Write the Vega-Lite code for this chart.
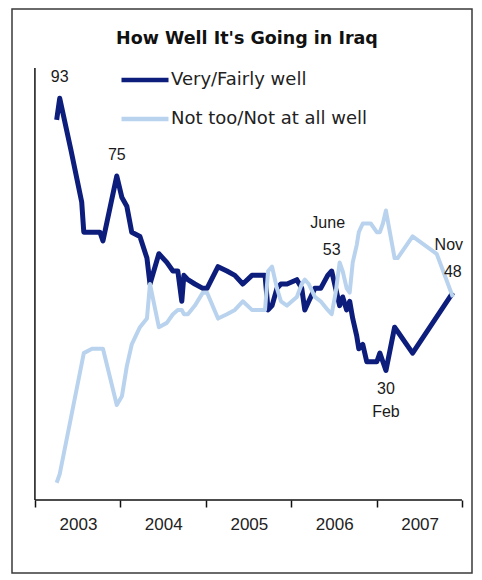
{
  "$schema": "https://vega.github.io/schema/vega-lite/v6.json",
  "width": 460,
  "height": 564,
  "autosize": {"type": "none"},
  "padding": {"left": 12, "top": 9, "right": 10, "bottom": 7},
  "background": "white",
  "title": {
    "text": "How Well It's Going in Iraq",
    "font": "DejaVu Sans",
    "fontSize": 17.5,
    "fontWeight": "bold",
    "color": "#111111",
    "anchor": "middle",
    "frame": "group",
    "baseline": "middle",
    "offset": -47,
    "dx": 5
  },
  "config": {
    "view": {"stroke": "#3a3a3a", "strokeWidth": 1.5}
  },
  "datasets": {
    "well": [
      {"d": "2003-04-04", "v": 88},
      {"d": "2003-04-17", "v": 93},
      {"d": "2003-06-04", "v": 81},
      {"d": "2003-07-20", "v": 69},
      {"d": "2003-07-29", "v": 62},
      {"d": "2003-09-02", "v": 62},
      {"d": "2003-10-06", "v": 62},
      {"d": "2003-10-19", "v": 60},
      {"d": "2003-12-17", "v": 75},
      {"d": "2004-01-08", "v": 70},
      {"d": "2004-01-29", "v": 68},
      {"d": "2004-02-19", "v": 62},
      {"d": "2004-03-25", "v": 61},
      {"d": "2004-04-24", "v": 56},
      {"d": "2004-05-07", "v": 50},
      {"d": "2004-06-14", "v": 57},
      {"d": "2004-07-18", "v": 55},
      {"d": "2004-08-13", "v": 53},
      {"d": "2004-09-03", "v": 53},
      {"d": "2004-09-20", "v": 46},
      {"d": "2004-09-29", "v": 52},
      {"d": "2004-10-16", "v": 51},
      {"d": "2004-11-15", "v": 50},
      {"d": "2004-12-19", "v": 49},
      {"d": "2005-01-06", "v": 49},
      {"d": "2005-02-22", "v": 54},
      {"d": "2005-04-01", "v": 53},
      {"d": "2005-05-05", "v": 52},
      {"d": "2005-06-08", "v": 50},
      {"d": "2005-07-17", "v": 52},
      {"d": "2005-09-11", "v": 52},
      {"d": "2005-09-24", "v": 44},
      {"d": "2005-10-11", "v": 45},
      {"d": "2005-11-01", "v": 49},
      {"d": "2005-11-18", "v": 50},
      {"d": "2005-12-14", "v": 50},
      {"d": "2006-01-25", "v": 51},
      {"d": "2006-02-15", "v": 49},
      {"d": "2006-02-28", "v": 44},
      {"d": "2006-03-17", "v": 46},
      {"d": "2006-04-12", "v": 49},
      {"d": "2006-05-07", "v": 49},
      {"d": "2006-06-06", "v": 52},
      {"d": "2006-06-23", "v": 53},
      {"d": "2006-07-10", "v": 49},
      {"d": "2006-07-27", "v": 45},
      {"d": "2006-08-09", "v": 47},
      {"d": "2006-08-26", "v": 44},
      {"d": "2006-09-08", "v": 46},
      {"d": "2006-09-21", "v": 42},
      {"d": "2006-10-08", "v": 38},
      {"d": "2006-10-17", "v": 35},
      {"d": "2006-11-03", "v": 36},
      {"d": "2006-11-20", "v": 32},
      {"d": "2006-12-07", "v": 32},
      {"d": "2007-01-02", "v": 32},
      {"d": "2007-01-15", "v": 34},
      {"d": "2007-01-28", "v": 32},
      {"d": "2007-02-10", "v": 30},
      {"d": "2007-03-19", "v": 40},
      {"d": "2007-04-01", "v": 39},
      {"d": "2007-06-04", "v": 34},
      {"d": "2007-11-23", "v": 48}
    ],
    "notwell": [
      {"d": "2003-04-04", "v": 4},
      {"d": "2003-04-17", "v": 6},
      {"d": "2003-06-04", "v": 19},
      {"d": "2003-07-29", "v": 34},
      {"d": "2003-09-02", "v": 35},
      {"d": "2003-10-06", "v": 35},
      {"d": "2003-10-19", "v": 35},
      {"d": "2003-12-17", "v": 22},
      {"d": "2004-01-08", "v": 24},
      {"d": "2004-01-29", "v": 31},
      {"d": "2004-02-19", "v": 36},
      {"d": "2004-03-25", "v": 40},
      {"d": "2004-04-24", "v": 42},
      {"d": "2004-05-07", "v": 50},
      {"d": "2004-06-14", "v": 40},
      {"d": "2004-07-18", "v": 41},
      {"d": "2004-08-13", "v": 43},
      {"d": "2004-09-03", "v": 44},
      {"d": "2004-09-20", "v": 44},
      {"d": "2004-09-29", "v": 43},
      {"d": "2004-10-16", "v": 43},
      {"d": "2004-11-15", "v": 45},
      {"d": "2004-12-19", "v": 48},
      {"d": "2005-01-06", "v": 48},
      {"d": "2005-02-22", "v": 42},
      {"d": "2005-04-01", "v": 43},
      {"d": "2005-05-05", "v": 44},
      {"d": "2005-06-08", "v": 46},
      {"d": "2005-07-17", "v": 44},
      {"d": "2005-09-11", "v": 44},
      {"d": "2005-09-24", "v": 53},
      {"d": "2005-10-11", "v": 54},
      {"d": "2005-11-01", "v": 49},
      {"d": "2005-11-18", "v": 46},
      {"d": "2005-12-14", "v": 45},
      {"d": "2006-01-25", "v": 47},
      {"d": "2006-02-15", "v": 50},
      {"d": "2006-02-28", "v": 51},
      {"d": "2006-03-17", "v": 50},
      {"d": "2006-04-12", "v": 47},
      {"d": "2006-05-07", "v": 46},
      {"d": "2006-06-06", "v": 44},
      {"d": "2006-06-23", "v": 43},
      {"d": "2006-07-10", "v": 48},
      {"d": "2006-07-27", "v": 55},
      {"d": "2006-08-09", "v": 53},
      {"d": "2006-08-26", "v": 49},
      {"d": "2006-09-08", "v": 48},
      {"d": "2006-09-21", "v": 55},
      {"d": "2006-10-08", "v": 59},
      {"d": "2006-10-17", "v": 62},
      {"d": "2006-11-03", "v": 64},
      {"d": "2006-11-20", "v": 64},
      {"d": "2006-12-07", "v": 64},
      {"d": "2007-01-02", "v": 62},
      {"d": "2007-01-15", "v": 62},
      {"d": "2007-01-28", "v": 64},
      {"d": "2007-02-10", "v": 67},
      {"d": "2007-03-19", "v": 56},
      {"d": "2007-04-01", "v": 56},
      {"d": "2007-06-04", "v": 61},
      {"d": "2007-09-15", "v": 57},
      {"d": "2007-11-23", "v": 47}
    ],
    "peaks": [
      {"d": "2003-04-17", "v": 93, "m": ""},
      {"d": "2003-12-17", "v": 75, "m": ""},
      {"d": "2006-06-23", "v": 53, "m": "June"},
      {"d": "2007-11-23", "v": 48, "m": "Nov"}
    ],
    "troughs": [
      {"d": "2007-02-10", "v": 30, "m": "Feb"}
    ]
  },
  "layer": [
    {
      "data": {"values": [{}]},
      "mark": {"type": "rule", "stroke": "#111111", "strokeWidth": 1.5},
      "encoding": {
        "x": {
          "datum": {"year": 2003, "month": 1, "date": 1},
          "type": "temporal",
          "scale": {"domain": [{"year": 2002, "month": 9, "date": 25}, {"year": 2008, "month": 2, "date": 13}]},
          "axis": {
            "orient": "bottom",
            "offset": -73,
            "title": null,
            "domain": false,
            "grid": false,
            "values": [
              {"year": 2003, "month": 1, "date": 1},
              {"year": 2004, "month": 1, "date": 1},
              {"year": 2005, "month": 1, "date": 1},
              {"year": 2006, "month": 1, "date": 1},
              {"year": 2007, "month": 1, "date": 1},
              {"year": 2008, "month": 1, "date": 1}
            ],
            "tickSize": 7,
            "tickColor": "#111111",
            "tickWidth": 1.5,
            "labelExpr": "year(datum.value) >= 2008 ? '' : timeFormat(datum.value, '%Y')",
            "labelOffset": 43,
            "labelAlign": "center",
            "labelFont": "Liberation Sans",
            "labelFontSize": 17,
            "labelColor": "#222222",
            "labelPadding": 9,
            "labelFlush": false,
            "labelOverlap": false,
            "labelBound": false
          }
        },
        "y": {"datum": 0, "type": "quantitative", "scale": {"domain": [-16.9, 113.66], "nice": false, "zero": false}, "axis": null},
        "y2": {"datum": 100}
      }
    },
    {
      "data": {"values": [{}]},
      "mark": {"type": "rule", "stroke": "#111111", "strokeWidth": 1.5},
      "encoding": {
        "x": {"datum": {"year": 2003, "month": 1, "date": 1}, "type": "temporal"},
        "x2": {"datum": {"year": 2008, "month": 1, "date": 1}},
        "y": {"datum": 0, "type": "quantitative", "axis": null}
      }
    },
    {
      "data": {"name": "well"},
      "mark": {"type": "line", "strokeWidth": 5, "strokeJoin": "round"},
      "encoding": {
        "x": {"field": "d", "type": "temporal"},
        "y": {"field": "v", "type": "quantitative", "axis": null},
        "color": {
          "datum": "Very/Fairly well",
          "type": "nominal",
          "scale": {"domain": ["Very/Fairly well", "Not too/Not at all well"], "range": ["#0c1d7c", "#b9d3ee"]},
          "legend": {
            "title": null,
            "orient": "none",
            "legendX": 107,
            "legendY": 45,
            "symbolType": "stroke",
            "symbolSize": 2209,
            "symbolStrokeWidth": 4.5,
            "labelFont": "DejaVu Sans",
            "labelFontSize": 18,
            "labelColor": "#222222",
            "labelOffset": 0,
            "labelLimit": 400,
            "rowPadding": 4,
            "padding": 0
          }
        }
      }
    },
    {
      "data": {"name": "notwell"},
      "mark": {"type": "line", "strokeWidth": 4, "strokeJoin": "round"},
      "encoding": {
        "x": {"field": "d", "type": "temporal"},
        "y": {"field": "v", "type": "quantitative", "axis": null},
        "color": {"datum": "Not too/Not at all well", "type": "nominal"}
      }
    },
    {
      "data": {"name": "well"},
      "transform": [{"filter": "datum.d == '2007-11-23'"}],
      "mark": {"type": "point", "shape": "diamond", "size": 45, "filled": true, "fill": "white", "stroke": "#b9d3ee", "strokeWidth": 1, "opacity": 1},
      "encoding": {
        "x": {"field": "d", "type": "temporal"},
        "y": {"field": "v", "type": "quantitative", "axis": null}
      }
    },
    {
      "data": {"name": "peaks"},
      "mark": {"type": "text", "font": "Liberation Sans", "fontSize": 16, "color": "#1a1a1a", "baseline": "middle", "align": "center", "dy": -21},
      "encoding": {
        "x": {"field": "d", "type": "temporal"},
        "y": {"field": "v", "type": "quantitative", "axis": null},
        "text": {"field": "v", "type": "quantitative"}
      }
    },
    {
      "data": {"name": "peaks"},
      "mark": {"type": "text", "font": "Liberation Sans", "fontSize": 16, "color": "#1a1a1a", "baseline": "middle", "align": "center", "dx": -4, "dy": -48},
      "encoding": {
        "x": {"field": "d", "type": "temporal"},
        "y": {"field": "v", "type": "quantitative", "axis": null},
        "text": {"field": "m"}
      }
    },
    {
      "data": {"name": "troughs"},
      "mark": {"type": "text", "font": "Liberation Sans", "fontSize": 16, "color": "#1a1a1a", "baseline": "middle", "align": "center", "dy": 19},
      "encoding": {
        "x": {"field": "d", "type": "temporal"},
        "y": {"field": "v", "type": "quantitative", "axis": null},
        "text": {"field": "v", "type": "quantitative"}
      }
    },
    {
      "data": {"name": "troughs"},
      "mark": {"type": "text", "font": "Liberation Sans", "fontSize": 16, "color": "#1a1a1a", "baseline": "middle", "align": "center", "dy": 42},
      "encoding": {
        "x": {"field": "d", "type": "temporal"},
        "y": {"field": "v", "type": "quantitative", "axis": null},
        "text": {"field": "m"}
      }
    }
  ]
}
